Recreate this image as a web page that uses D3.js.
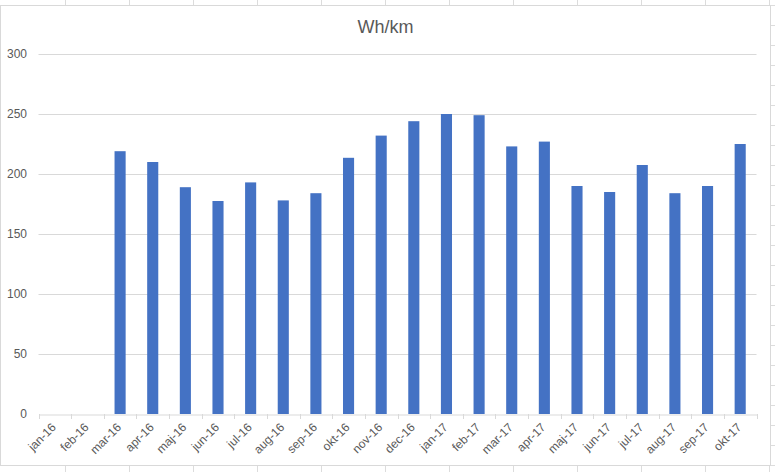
<!DOCTYPE html>
<html>
<head>
<meta charset="utf-8">
<script src="https://cdn.jsdelivr.net/npm/d3@7"></script>
<style>
  html, body { margin: 0; padding: 0; background: #ffffff; }
  svg { display: block; }
  text { font-family: "Liberation Sans", Arial, sans-serif; }
</style>
</head>
<body>
<svg id="chart" width="775" height="472"></svg>
<script>
const title = "Wh/km";
const months = ["jan-16","feb-16","mar-16","apr-16","maj-16","jun-16","jul-16","aug-16","sep-16","okt-16","nov-16","dec-16",
                "jan-17","feb-17","mar-17","apr-17","maj-17","jun-17","jul-17","aug-17","sep-17","okt-17"];
const whPerKm = [null, null, 219, 210, 189, 177.5, 193, 178, 184, 213.5, 232, 244,
                 250, 249, 223, 227, 190, 185, 207.5, 184, 190, 225];
const yTicks = [0, 50, 100, 150, 200, 250, 300];

const svg = d3.select("#chart");
const W = 775, H = 472;

// spreadsheet cell grid behind the chart
const grid = svg.append("g").attr("stroke", "#dcdcdc").attr("stroke-width", 1);
d3.range(1, 13).forEach(i => {
  const x = i * 64 + 1.5;
  grid.append("line").attr("x1", x).attr("x2", x).attr("y1", 0).attr("y2", H);
});
d3.range(0, 25).forEach(i => {
  const y = 5 + i * 20 + 0.5;
  grid.append("line").attr("x1", 0).attr("x2", W).attr("y1", y).attr("y2", y);
});

// chart area
svg.append("rect").attr("x", 0.5).attr("y", 5.5).attr("width", 770).attr("height", 460)
  .attr("fill", "#ffffff").attr("stroke", "#d9d9d9").attr("stroke-width", 1);

const margin = { left: 38.5, right: 756.5, top: 54, bottom: 414 };

const x = d3.scaleBand().domain(months).range([margin.left, margin.right]).paddingInner(0.66).paddingOuter(0.33);
const xOuter = d3.scaleBand().domain(months).range([margin.left, margin.right]);
const y = d3.scaleLinear().domain([0, 300]).range([margin.bottom, margin.top]);

// gridlines
svg.append("g").selectAll("line").data(yTicks.filter(d => d > 0)).join("line")
  .attr("x1", margin.left).attr("x2", margin.right)
  .attr("y1", d => Math.round(y(d)) + 0.5).attr("y2", d => Math.round(y(d)) + 0.5)
  .attr("stroke", "#d9d9d9").attr("stroke-width", 1);

// y labels
svg.append("g").selectAll("text").data(yTicks).join("text")
  .attr("x", 27).attr("y", d => y(d)).attr("dy", "0.35em")
  .attr("text-anchor", "end").attr("font-size", 12).attr("fill", "#595959")
  .text(d => d);

// bars
const data = months.map((m, i) => ({ m, v: whPerKm[i] })).filter(d => d.v != null);
svg.append("g").selectAll("rect").data(data).join("rect")
  .attr("x", d => x(d.m)).attr("width", x.bandwidth())
  .attr("y", d => y(d.v)).attr("height", d => y(0) - y(d.v))
  .attr("fill", "#4472C4");

// x axis
const xAxis = d3.axisBottom(xOuter).tickSize(0).tickFormat("");
const ax = svg.append("g").attr("transform", `translate(0,${margin.bottom + 0.5})`).call(xAxis);
ax.select(".domain").attr("stroke", "#d9d9d9");
// tick marks at category boundaries
const bounds = months.map(m => xOuter(m)).concat([xOuter.range()[1]]);
svg.append("g").selectAll("line").data(bounds).join("line")
  .attr("x1", d => Math.round(d) + 0.5).attr("x2", d => Math.round(d) + 0.5)
  .attr("y1", margin.bottom).attr("y2", margin.bottom + 5)
  .attr("stroke", "#d9d9d9");

// x labels rotated
svg.append("g").selectAll("text").data(months).join("text")
  .attr("transform", d => `translate(${xOuter(d) + xOuter.bandwidth() / 2 - 1},${margin.bottom + 11}) rotate(-45)`)
  .attr("text-anchor", "end").attr("dy", "0.35em")
  .attr("font-size", 12).attr("fill", "#595959")
  .text(d => d);

// title
svg.append("text").attr("x", 385.5).attr("y", 33)
  .attr("text-anchor", "middle").attr("font-size", 18).attr("fill", "#595959")
  .text(title);
</script>
</body>
</html>
